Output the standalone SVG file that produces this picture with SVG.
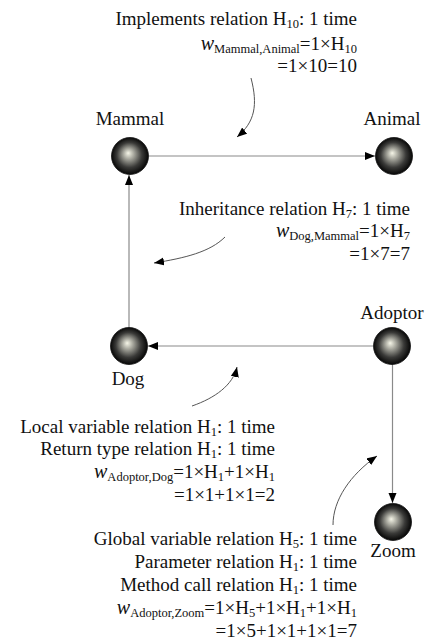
<svg xmlns="http://www.w3.org/2000/svg" width="433" height="644" viewBox="0 0 433 644">
<style>
text{font-family:"Liberation Serif","Times New Roman",serif;font-size:19px;fill:#111}
.r{text-anchor:end}
.c{text-anchor:middle}
.w{font-style:italic;font-size:20px}
.s{font-size:12.5px}
.edge{stroke:#8a8a8a;stroke-width:1.2;fill:none}
.curve{stroke:#555;stroke-width:1;fill:none}
.ball{fill:url(#g);stroke:#111;stroke-width:0.8}
</style>
<defs>
<radialGradient id="g" cx="0.5" cy="0.5" r="0.52" fx="0.45" fy="0.42">
<stop offset="0" stop-color="#f6f6e8"/>
<stop offset="0.25" stop-color="#aeaea4"/>
<stop offset="0.65" stop-color="#3a3a38"/>
<stop offset="1" stop-color="#000"/>
</radialGradient>
<marker id="a" markerUnits="userSpaceOnUse" markerWidth="11" markerHeight="9" refX="10" refY="4" orient="auto">
<path d="M0,0 L10,4 L0,8 z" fill="#000"/>
</marker>
</defs>
<g id="connectors">
<line class="edge" x1="149" y1="156" x2="375" y2="156" marker-end="url(#a)"/>
<line class="edge" x1="129" y1="328" x2="129" y2="175" marker-end="url(#a)"/>
<line class="edge" x1="373" y1="346" x2="148" y2="346" marker-end="url(#a)"/>
<line class="edge" x1="392.5" y1="364" x2="392.5" y2="503" marker-end="url(#a)"/>
<path class="curve" d="M251,78 C258,105 255,122 237,137" marker-end="url(#a)"/>
<path class="curve" d="M225,237 C210,252 185,258 154,263" marker-end="url(#a)"/>
<path class="curve" d="M192,406 C215,398 233,385 237,367" marker-end="url(#a)"/>
<path class="curve" d="M333,525 C333,500 350,475 377,456" marker-end="url(#a)"/>
</g>
<g id="Mammal">
<circle class="ball" cx="130" cy="156" r="18.5"/>
<text class="c" x="130" y="125">Mammal</text>
</g>
<g id="Animal">
<circle class="ball" cx="394" cy="156" r="18.5"/>
<text class="c" x="392" y="125">Animal</text>
</g>
<g id="Dog">
<circle class="ball" cx="129" cy="346" r="18.5"/>
<text class="c" x="128" y="385">Dog</text>
</g>
<g id="Adoptor">
<circle class="ball" cx="392" cy="346" r="18.5"/>
<text class="c" x="392" y="319">Adoptor</text>
</g>
<g id="Zoom">
<circle class="ball" cx="393" cy="522" r="18.5"/>
<text class="c" x="393" y="557">Zoom</text>
</g>
<g id="label-implements">
<text class="r" x="357" y="25">Implements relation H<tspan class="s" dy="3">10</tspan><tspan dy="-3">: 1 time</tspan></text>
<text class="r" x="357" y="50"><tspan class="w">w</tspan><tspan class="s" dy="3">Mammal,Animal</tspan><tspan dy="-3">=1×H</tspan><tspan class="s" dy="3">10</tspan></text>
<text class="r" x="357" y="72">=1×10=10</text>
</g>
<g id="label-inheritance">
<text class="r" x="410" y="215">Inheritance relation H<tspan class="s" dy="3">7</tspan><tspan dy="-3">: 1 time</tspan></text>
<text class="r" x="410" y="237"><tspan class="w">w</tspan><tspan class="s" dy="3">Dog,Mammal</tspan><tspan dy="-3">=1×H</tspan><tspan class="s" dy="3">7</tspan></text>
<text class="r" x="410" y="260">=1×7=7</text>
</g>
<g id="label-local">
<text class="r" x="275" y="433">Local variable relation H<tspan class="s" dy="3">1</tspan><tspan dy="-3">: 1 time</tspan></text>
<text class="r" x="275" y="455">Return type relation H<tspan class="s" dy="3">1</tspan><tspan dy="-3">: 1 time</tspan></text>
<text class="r" x="275" y="478"><tspan class="w">w</tspan><tspan class="s" dy="3">Adoptor,Dog</tspan><tspan dy="-3">=1×H</tspan><tspan class="s" dy="3">1</tspan><tspan dy="-3">+1×H</tspan><tspan class="s" dy="3">1</tspan></text>
<text class="r" x="275" y="501">=1×1+1×1=2</text>
</g>
<g id="label-global">
<text class="r" x="357" y="545">Global variable relation H<tspan class="s" dy="3">5</tspan><tspan dy="-3">: 1 time</tspan></text>
<text class="r" x="357" y="568">Parameter relation H<tspan class="s" dy="3">1</tspan><tspan dy="-3">: 1 time</tspan></text>
<text class="r" x="357" y="591">Method call relation H<tspan class="s" dy="3">1</tspan><tspan dy="-3">: 1 time</tspan></text>
<text class="r" x="357" y="614"><tspan class="w">w</tspan><tspan class="s" dy="3">Adoptor,Zoom</tspan><tspan dy="-3">=1×H</tspan><tspan class="s" dy="3">5</tspan><tspan dy="-3">+1×H</tspan><tspan class="s" dy="3">1</tspan><tspan dy="-3">+1×H</tspan><tspan class="s" dy="3">1</tspan></text>
<text class="r" x="357" y="637">=1×5+1×1+1×1=7</text>
</g>
</svg>
